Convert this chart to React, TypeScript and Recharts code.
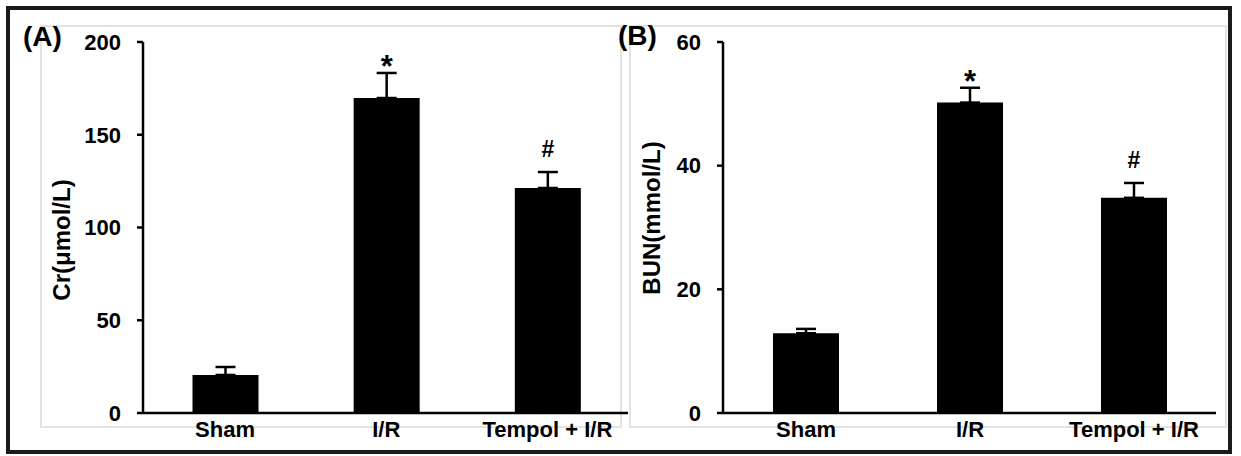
import React from "react";
import {
  BarChart,
  Bar,
  XAxis,
  YAxis,
  ErrorBar,
  LabelList,
} from "recharts";

const categories = ["Sham", "I/R", "Tempol + I/R"];

const crValues = [20.5, 169.8, 121.3];
const crErrors = [4.3, 13.5, 8.6];
const crTicks = [0, 50, 100, 150, 200];

const bunValues = [12.9, 50.2, 34.8];
const bunErrors = [0.7, 2.4, 2.4];
const bunTicks = [0, 20, 40, 60];

const marks = ["", "*", "#"];

const FONT = '"Liberation Sans", Arial, sans-serif';

type PanelProps = {
  values: number[];
  errors: number[];
  ticks: number[];
  title: string;
  titleX: number;
  titleY: number;
  width: number;
  yAxisWidth: number;
  padLeft: number;
};

function Panel({
  values,
  errors,
  ticks,
  title,
  titleX,
  titleY,
  width,
  yAxisWidth,
  padLeft,
}: PanelProps) {
  const data = categories.map((name, i) => ({
    name,
    value: values[i],
    err: [0, errors[i]],
    mark: marks[i],
  }));

  // draw * / # above the top of each error bar
  const renderMark = (props: any) => {
    const { index, value } = props;
    const vb = props.viewBox || {};
    const x = props.x ?? vb.x;
    const y = props.y ?? vb.y;
    const w = props.width ?? vb.width;
    const h = props.height ?? vb.height;
    if (!value) return null;
    const pxPerUnit = h / values[index];
    const errTop = y - errors[index] * pxPerUnit;
    const isStar = value === "*";
    return (
      <text
        x={x + w / 2}
        y={isStar ? errTop + 4 : errTop - 15}
        textAnchor="middle"
        style={{ fontFamily: FONT, fontWeight: 700 }}
        fontSize={isStar ? 31 : 23}
        fill="#000"
      >
        {value}
      </text>
    );
  };

  return (
    <BarChart
      width={width}
      height={456}
      data={data}
      margin={{ top: 42, right: 0, left: 0, bottom: 0 }}
      barSize={66}
    >
      <XAxis
        dataKey="name"
        height={43}
        padding={{ left: padLeft, right: 0 }}
        axisLine={{ stroke: "#000", strokeWidth: 2.5 }}
        tickLine={false}
        tickSize={6}
        tickMargin={2}
        interval={0}
        tick={{ fill: "#000", fontSize: 22, fontWeight: "bold", fontFamily: FONT }}
      />
      <YAxis
        width={yAxisWidth}
        domain={[ticks[0], ticks[ticks.length - 1]]}
        ticks={ticks}
        interval={0}
        axisLine={{ stroke: "#000", strokeWidth: 2.5 }}
        tickLine={{ stroke: "#000", strokeWidth: 2.5 }}
        tickSize={6}
        tickMargin={16}
        tick={{ fill: "#000", fontSize: 22, fontWeight: "bold", fontFamily: FONT }}
        label={{
          content: () => (
            <text
              x={titleX}
              y={titleY}
              transform={`rotate(-90 ${titleX} ${titleY})`}
              textAnchor="middle"
              dominantBaseline="central"
              fontFamily={FONT}
              fontWeight="bold"
              fontSize={24}
              fill="#000"
            >
              {title}
            </text>
          ),
        }}
      />
      <Bar dataKey="value" fill="#000" isAnimationActive={false}>
        <ErrorBar
          dataKey="err"
          direction="y"
          width={10}
          stroke="#000"
          strokeWidth={2.5}
          isAnimationActive={false}
        />
        <LabelList dataKey="mark" content={renderMark} />
      </Bar>
    </BarChart>
  );
}

export default function App() {
  return (
    <div
      style={{
        position: "absolute",
        left: 0,
        top: 0,
        width: 1241,
        height: 456,
        background: "#fff",
        overflow: "hidden",
        fontFamily: FONT,
      }}
    >
      {/* faint chart-area frames */}
      <div
        style={{
          position: "absolute",
          left: 40,
          top: 25,
          width: 582,
          height: 403,
          border: "2px solid #e2e2e2",
          boxSizing: "border-box",
        }}
      />
      <div
        style={{
          position: "absolute",
          left: 629,
          top: 25,
          width: 598,
          height: 403,
          border: "2px solid #e2e2e2",
          boxSizing: "border-box",
        }}
      />
      <div style={{ position: "absolute", left: 0, top: 0 }}>
        <Panel
          values={crValues}
          errors={crErrors}
          ticks={crTicks}
          title="Cr(μmol/L)"
          titleX={61}
          titleY={240}
          width={628}
          yAxisWidth={143}
          padLeft={1.5}
        />
      </div>
      <div style={{ position: "absolute", left: 620, top: 0 }}>
        <Panel
          values={bunValues}
          errors={bunErrors}
          ticks={bunTicks}
          title="BUN(mmol/L)"
          titleX={31}
          titleY={218}
          width={596}
          yAxisWidth={103}
          padLeft={1}
        />
      </div>
      <div
        style={{
          position: "absolute",
          left: 23,
          top: 20,
          fontSize: 28,
          fontWeight: "bold",
          lineHeight: "34px",
          color: "#000",
        }}
      >
        (A)
      </div>
      <div
        style={{
          position: "absolute",
          left: 618,
          top: 19,
          fontSize: 28,
          fontWeight: "bold",
          lineHeight: "34px",
          color: "#000",
        }}
      >
        (B)
      </div>
      {/* outer border */}
      <div
        style={{
          position: "absolute",
          left: 6,
          top: 6,
          width: 1226,
          height: 448,
          border: "4px solid #1a1a1a",
          boxSizing: "border-box",
        }}
      />
    </div>
  );
}
